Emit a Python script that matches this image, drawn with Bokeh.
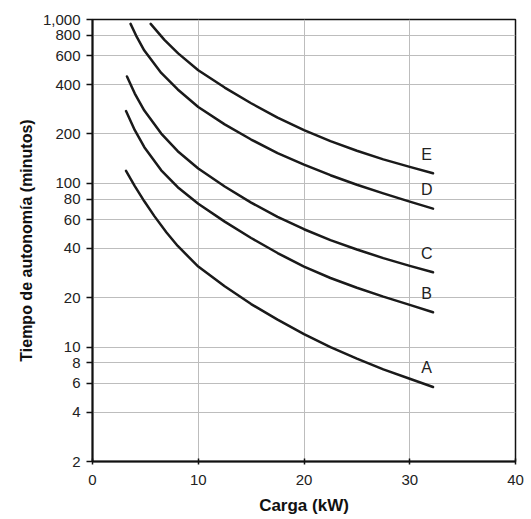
from bokeh.plotting import figure
from bokeh.models import FixedTicker, NumeralTickFormatter, Range1d
from bokeh.core.properties import value
from bokeh.embed import file_html
from bokeh.resources import INLINE

# Data (load kW vs autonomy minutes)
a_x = [3.17, 4, 4.9, 5.85, 7, 8.06, 10, 12.5, 15, 17.5, 20, 22.5, 25, 27.5, 30, 32.2]
a_y = [119, 96, 77.6, 63, 50, 41.4, 31.0, 23.5, 18.3, 14.7, 12.0, 10.0, 8.5, 7.3, 6.4, 5.7]
b_x = [3.17, 4, 4.9, 6.5, 8.06, 10, 12.5, 15, 17.5, 20, 22.5, 25, 27.5, 30, 32.2]
b_y = [276, 211, 166, 120, 94.6, 75, 58.3, 46.3, 37.5, 31.0, 26.4, 23.0, 20.3, 18.1, 16.3]
c_x = [3.26, 4, 4.9, 6.5, 8.06, 10, 12.5, 15, 17.5, 20, 22.5, 25, 27.5, 30, 32.2]
c_y = [449, 353, 278, 201, 157, 123, 95.5, 76.2, 62.4, 52.4, 45, 39.4, 34.9, 31.3, 28.6]
d_x = [3.6, 4.2, 4.9, 6.5, 8.06, 10, 12.5, 15, 17.5, 20, 22.5, 25, 27.5, 30, 32.2]
d_y = [940, 780, 646, 472, 374, 292, 229, 185, 153, 130, 112, 98, 86.7, 77.3, 70]
e_x = [5.5, 6.8, 8.1, 10, 12.5, 15, 17.5, 20, 22.5, 25, 27.5, 30, 32.2]
e_y = [940, 751, 621, 490, 384, 308, 252, 211, 181, 158, 140, 126, 115]
series_names = ["A", "B", "C", "D", "E"]

y_ticks = [2, 4, 6, 8, 10, 20, 40, 60, 80, 100, 200, 400, 600, 800, 1000]
x_ticks = [0, 10, 20, 30, 40]

FONT = "Liberation Sans"

p = figure(width=528, height=518, y_axis_type="log",
           x_range=Range1d(0, 40), y_range=Range1d(2, 1000),
           output_backend="svg", toolbar_location=None,
           min_border_left=92, min_border_right=13,
           min_border_top=19, min_border_bottom=57)

p.background_fill_color = "white"
p.border_fill_color = "white"
p.outline_line_color = "#111111"
p.outline_line_width = 1.5

p.xaxis.ticker = FixedTicker(ticks=x_ticks)
p.yaxis.ticker = FixedTicker(ticks=y_ticks)
p.yaxis.formatter = NumeralTickFormatter(format="0,0")
p.ygrid.ticker = FixedTicker(ticks=y_ticks)
p.xgrid.ticker = FixedTicker(ticks=x_ticks)

for g in (p.xgrid, p.ygrid):
    g.grid_line_color = "#bdbdbd"
    g.grid_line_width = 1

for ax in (p.xaxis, p.yaxis):
    ax.axis_line_color = "#111111"
    ax.axis_line_width = 2
    ax.major_tick_line_color = "#111111"
    ax.major_tick_line_width = 1.5
    ax.minor_tick_line_color = None
    ax.major_label_text_font = FONT
    ax.major_label_text_font_size = "15px"
    ax.major_label_text_color = "#222222"
    ax.axis_label_text_font = FONT
    ax.axis_label_text_font_style = "bold"
    ax.axis_label_text_font_size = "16px"
    ax.axis_label_text_color = "#111111"

p.yaxis.major_tick_out = 6
p.yaxis.major_tick_in = 0
p.yaxis.major_label_standoff = 6
p.yaxis.axis_label = "Tiempo de autonomía (minutos)"
p.yaxis.axis_label_standoff = 5

p.xaxis.major_tick_out = 3
p.xaxis.major_tick_in = 3
p.xaxis.major_label_standoff = 10
p.xaxis.axis_label = "Carga (kW)"
p.xaxis.axis_label_standoff = 8
p.xaxis.axis_label_text_font_size = "17px"

xs = [a_x, b_x, c_x, d_x, e_x]
ys = [a_y, b_y, c_y, d_y, e_y]
for name, x, y in zip(series_names, xs, ys):
    p.line(x, y, line_color="#1a1a1a", line_width=2.5, line_cap="round", line_join="round")
    p.text(x=[x[-1] - 0.6], y=[y[-1] * 1.31], text=[name],
           text_align="center", text_baseline="middle",
           text_font_size="16px", text_color="#222222",
           text_font=value(FONT))

open("out.html", "w").write(file_html(p, INLINE))
